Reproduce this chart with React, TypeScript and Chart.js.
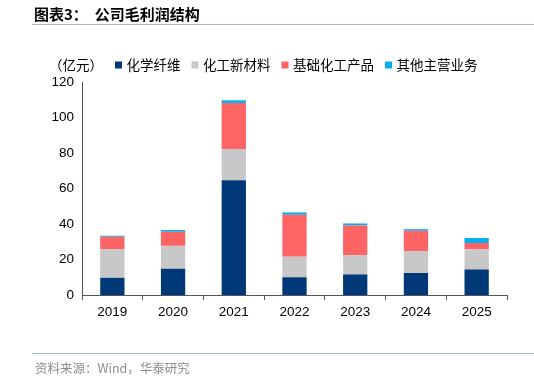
import React, { useEffect, useRef } from "react";
import { Chart, registerables } from "chart.js";

Chart.register(...registerables);

const categories = ["2019", "2020", "2021", "2022", "2023", "2024", "2025"];
const seriesNames = ["化学纤维", "化工新材料", "基础化工产品", "其他主营业务"];
const fiber = [9.7, 14.8, 64.7, 10.0, 11.6, 12.4, 14.4];
const newMaterial = [16.2, 12.9, 17.6, 11.6, 10.9, 12.4, 11.3];
const basicChem = [6.9, 7.9, 25.9, 23.6, 16.7, 11.4, 3.6];
const other = [0.6, 1.0, 1.5, 1.3, 1.1, 0.9, 2.8];
const yTicks = [0, 20, 40, 60, 80, 100, 120];
const colors = ["#003878", "#C8C8C8", "#FF6464", "#00B0F0"];

const titleText = "图表3：  公司毛利润结构";
const unitText = "（亿元）";
const sourceText = "资料来源：Wind，华泰研究";

const CJK = '"Noto Sans CJK SC", "Liberation Sans", sans-serif';
const NUM = '"Liberation Sans", Arial, sans-serif';

const decorPlugin = {
  id: "decor",
  afterDraw(chart: any) {
    const ctx = chart.ctx as CanvasRenderingContext2D;
    ctx.save();
    // title
    ctx.fillStyle = "#000";
    ctx.textBaseline = "middle";
    ctx.font = `bold 15px ${CJK}`;
    ctx.fillText(titleText, 34, 14);
    // lines
    ctx.strokeStyle = "#A6BBD1";
    ctx.lineWidth = 1;
    ctx.beginPath();
    ctx.moveTo(32, 24.5);
    ctx.lineTo(534, 24.5);
    ctx.moveTo(32, 353.5);
    ctx.lineTo(534, 353.5);
    ctx.stroke();
    // unit
    ctx.font = `13.5px ${CJK}`;
    ctx.fillStyle = "#000";
    ctx.fillText(unitText, 49, 65);
    // legend
    let x = 115;
    chart.data.datasets.forEach((ds: any) => {
      ctx.fillStyle = ds.backgroundColor;
      ctx.fillRect(x, 61.5, 7, 7);
      ctx.fillStyle = "#000";
      ctx.font = `13.5px ${CJK}`;
      const tx = x + 11.5;
      ctx.fillText(ds.label, tx, 65);
      x = tx + ctx.measureText(ds.label).width + 11;
    });
    // footer
    ctx.font = `12.5px ${CJK}`;
    ctx.fillStyle = "#8C8C8C";
    ctx.fillText(sourceText, 35, 368);
    ctx.restore();
  },
};

export default function App() {
  const ref = useRef<HTMLCanvasElement>(null);
  useEffect(() => {
    document.body.style.margin = "0";
    const data = [fiber, newMaterial, basicChem, other];
    const chart = new Chart(ref.current!, {
      type: "bar",
      data: {
        labels: categories,
        datasets: data.map((d, i) => ({
          label: seriesNames[i],
          data: d,
          backgroundColor: colors[i],
          borderWidth: 0,
          categoryPercentage: 1,
          barPercentage: 0.4,
        })),
      },
      options: {
        animation: false,
        responsive: false,
        devicePixelRatio: 1,
        layout: { padding: { left: 0, right: 27, top: 82, bottom: 0 } },
        plugins: {
          legend: { display: false },
          title: { display: false },
          tooltip: { enabled: false },
        },
        scales: {
          x: {
            stacked: true,
            afterFit: (s: any) => {
              s.height = 83;
            },
            grid: {
              drawOnChartArea: false,
              drawTicks: true,
              tickLength: 5,
              color: "#555555",
              offset: true,
            },
            border: { display: true, color: "#555555", width: 1 },
            ticks: {
              color: "#000",
              font: { family: NUM, size: 13.5 },
              padding: 4,
            },
          },
          y: {
            stacked: true,
            min: 0,
            max: 120,
            afterFit: (s: any) => {
              s.width = 82;
            },
            afterBuildTicks: (s: any) => {
              s.ticks = yTicks.map((v) => ({ value: v }));
            },
            grid: { display: false, drawTicks: false },
            border: { display: true, color: "#555555", width: 1 },
            ticks: {
              color: "#000",
              font: { family: NUM, size: 13.5 },
              padding: 8,
            },
          },
        },
      },
      plugins: [decorPlugin],
    });
    return () => chart.destroy();
  }, []);
  return (
    <div style={{ position: "relative", width: 534, height: 378 }}>
      <canvas ref={ref} width={534} height={378} style={{ display: "block" }} />
    </div>
  );
}
